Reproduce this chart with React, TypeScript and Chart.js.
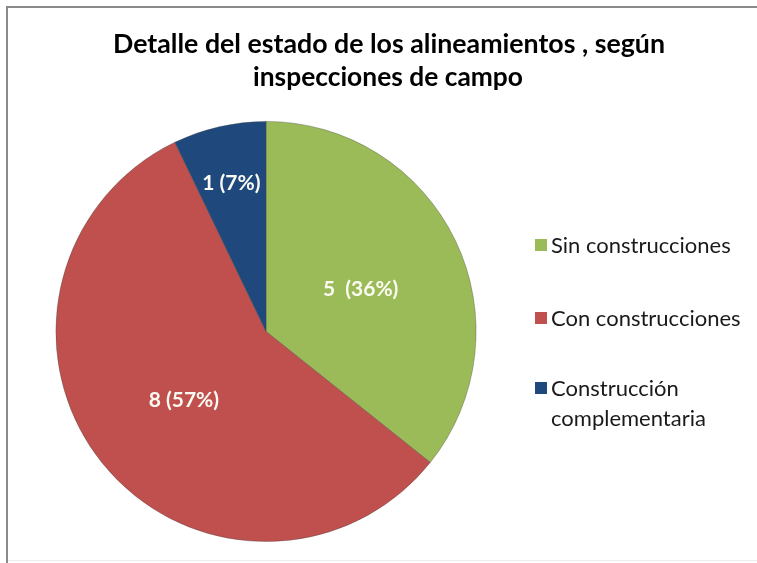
import React, { useEffect, useRef } from "react";
import { Chart, registerables } from "chart.js";

Chart.register(...registerables);

const TITLE_LINES = ["Detalle del estado de los alineamientos , según", "inspecciones de campo"];
const CATEGORIES = ["Sin construcciones", "Con construcciones", "Construcción complementaria"];
const LEGEND_LINES = [["Sin construcciones"], ["Con construcciones"], ["Construcción", "complementaria"]];
const VALUES = [5, 8, 1];
const VALUE_LABELS = ["5  (36%)", "8 (57%)", "1 (7%)"];
const COLORS = ["#9BBB59", "#C0504D", "#1F497D"];

const FONT = "Lato, 'Open Sans', 'Noto Sans', sans-serif";
const LABEL_RADIUS = [0.5, 0.5, 0.74];

const decorPlugin = {
  id: "decor",
  beforeDraw(chart: any) {
    const ctx = chart.ctx;
    ctx.save();
    ctx.fillStyle = "#ffffff";
    ctx.fillRect(0, 0, chart.width, chart.height);
    ctx.fillStyle = "#8a8a8a";
    ctx.fillRect(6, 6, chart.width - 6, 2);
    ctx.fillRect(6, 6, 2, chart.height - 6);
    ctx.fillStyle = "#ececec";
    ctx.fillRect(8, 560, chart.width - 8, 1);
    ctx.restore();
  },
  afterDatasetsDraw(chart: any) {
    const ctx = chart.ctx;
    const meta = chart.getDatasetMeta(0);
    ctx.save();
    ctx.fillStyle = "#fbfbf4";
    ctx.font = `bold 21px ${FONT}`;
    ctx.textAlign = "center";
    ctx.textBaseline = "middle";
    meta.data.forEach((arc: any, i: number) => {
      const p = arc.getProps(["x", "y", "startAngle", "endAngle", "outerRadius"], true);
      const mid = (p.startAngle + p.endAngle) / 2;
      const r = p.outerRadius * LABEL_RADIUS[i];
      ctx.fillText(VALUE_LABELS[i], p.x + r * Math.cos(mid), p.y + r * Math.sin(mid) + 3);
    });
    ctx.restore();
  },
  afterDraw(chart: any) {
    const ctx = chart.ctx;
    ctx.save();
    // title
    ctx.fillStyle = "#000000";
    ctx.font = `bold 27px ${FONT}`;
    ctx.textAlign = "center";
    ctx.textBaseline = "alphabetic";
    ctx.fillText(TITLE_LINES[0], 389, 53, 552);
    ctx.fillText(TITLE_LINES[1], 388, 86, 270);
    // legend
    const rows = [245, 318, 388];
    ctx.textAlign = "left";
    ctx.textBaseline = "middle";
    ctx.font = `22px ${FONT}`;
    LEGEND_LINES.forEach((lines, i) => {
      ctx.fillStyle = COLORS[i];
      ctx.fillRect(535, rows[i] - 6, 12, 12);
      ctx.fillStyle = "#1a1a1a";
      lines.forEach((t, j) => {
        ctx.fillText(t, 551, rows[i] + j * 30 + 1);
      });
    });
    ctx.restore();
  },
};

export default function App() {
  const ref = useRef<HTMLCanvasElement>(null);
  useEffect(() => {
    if (!ref.current) return;
    const chart = new Chart(ref.current, {
      type: "pie",
      data: {
        labels: CATEGORIES,
        datasets: [
          {
            data: VALUES,
            backgroundColor: COLORS,
            borderColor: "rgba(70,70,70,0.45)",
            borderWidth: 0.8,
          },
        ],
      },
      options: {
        responsive: false,
        animation: false,
        devicePixelRatio: 1,
        layout: { padding: { left: 55, right: 280, top: 121, bottom: 21 } },
        plugins: {
          legend: { display: false },
          title: { display: false },
          tooltip: { enabled: false },
        },
      },
      plugins: [decorPlugin],
    });
    return () => chart.destroy();
  }, []);
  return (
    <div style={{ position: "absolute", left: 0, top: 0, width: 757, height: 563 }}>
      <canvas ref={ref} width={757} height={563} style={{ display: "block" }} />
    </div>
  );
}
